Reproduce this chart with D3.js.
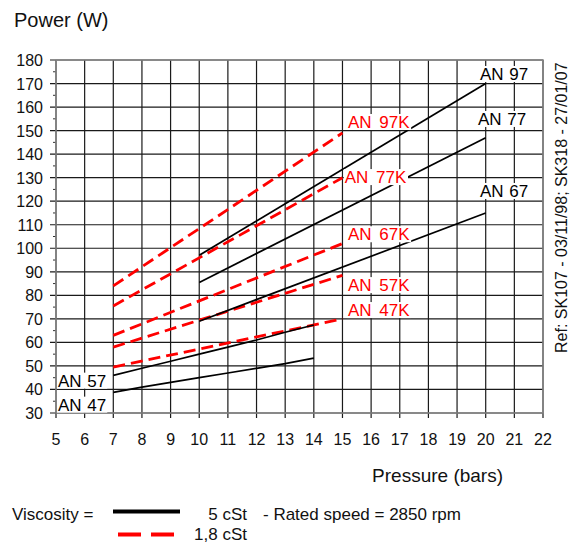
<!DOCTYPE html>
<html>
<head>
<meta charset="utf-8">
<script src="https://cdn.jsdelivr.net/npm/d3@7"></script>
<style>
  body { margin: 0; background: #fff; }
  svg { display: block; font-family: "Liberation Sans", Arial, sans-serif; }
</style>
</head>
<body>
<svg id="chart" width="578" height="544"></svg>
<script>
// pressure (bars) / power (W)
const xTicks = d3.range(5, 23, 1);
const yTicks = d3.range(30, 181, 10);
const yMinor = d3.range(35, 180, 10);

// 5 cSt (solid black)
const an47X = [7, 8, 9, 10, 11, 12, 13, 14];
const an47Y = [38.8, 41, 43, 45, 47, 49, 51, 53.3];
const an57X = [7, 8, 9, 10, 11, 12, 13, 14];
const an57Y = [46, 49, 52, 55, 58, 61, 64.3, 67.4];
const an67X = [10, 20];
const an67Y = [69, 115];
const an77X = [10, 20];
const an77Y = [85.5, 147];
const an97X = [10, 20];
const an97Y = [97, 170];

// 1,8 cSt (dashed red)
const an47kX = [7, 15];
const an47kY = [49.5, 70];
const an57kX = [7, 15];
const an57kY = [58, 88.5];
const an67kX = [7, 15];
const an67kY = [63, 102];
const an77kX = [7, 15];
const an77kY = [75.5, 130];
const an97kX = [7, 15];
const an97kY = [84, 149];

const svg = d3.select("#chart");
const x = d3.scaleLinear().domain([5, 22]).range([56, 543]);
const y = d3.scaleLinear().domain([30, 180]).range([413, 60]);

// grid
const grid = svg.append("g");
grid.selectAll(".vg").data(xTicks).enter().append("line")
    .attr("x1", d => x(d)).attr("x2", d => x(d))
    .attr("y1", y(180)).attr("y2", y(30) + 5)
    .attr("stroke", "#1a1a1a").attr("stroke-width", 1.2);
grid.selectAll(".hg").data(yTicks).enter().append("line")
    .attr("x1", x(5) - 6).attr("x2", x(22))
    .attr("y1", d => y(d)).attr("y2", d => y(d))
    .attr("stroke", "#1a1a1a").attr("stroke-width", 1.2);
grid.selectAll(".mt").data(yMinor).enter().append("line")
    .attr("x1", x(5) - 3).attr("x2", x(5))
    .attr("y1", d => y(d)).attr("y2", d => y(d))
    .attr("stroke", "#333").attr("stroke-width", 1);
grid.append("rect")
    .attr("x", x(5)).attr("y", y(180))
    .attr("width", x(22) - x(5)).attr("height", y(30) - y(180))
    .attr("fill", "none").attr("stroke", "#888").attr("stroke-width", 1.5);

// tick labels
svg.append("g").selectAll("text").data(yTicks).enter().append("text")
    .attr("x", 43).attr("y", d => y(d) + 6)
    .attr("text-anchor", "end").attr("font-size", 16).attr("fill", "#111")
    .text(d => d);
svg.append("g").selectAll("text").data(xTicks).enter().append("text")
    .attr("x", d => x(d)).attr("y", 445)
    .attr("text-anchor", "middle").attr("font-size", 16).attr("fill", "#111")
    .text(d => d);

// series
const line = d3.line().x(d => x(d[0])).y(d => y(d[1]));
const black = [[an47X, an47Y], [an57X, an57Y], [an67X, an67Y], [an77X, an77Y], [an97X, an97Y]];
const red = [[an47kX, an47kY], [an57kX, an57kY], [an67kX, an67kY], [an77kX, an77kY], [an97kX, an97kY]];
const lines = svg.append("g");
red.forEach(s => {
    lines.append("path").datum(d3.zip(s[0], s[1])).attr("d", line)
        .attr("fill", "none").attr("stroke", "#ff0000").attr("stroke-width", 2.8)
        .attr("stroke-dasharray", "12,6");
});
black.forEach(s => {
    lines.append("path").datum(d3.zip(s[0], s[1])).attr("d", line)
        .attr("fill", "none").attr("stroke", "#000").attr("stroke-width", 1.7);
});

// labels (anchored in data units)
const labels = [
    { t: "AN 97", px: 19.8, py: 171.5, c: "#000" },
    { t: "AN 77", px: 19.73, py: 152.4, c: "#000" },
    { t: "AN 67", px: 19.8, py: 121.8, c: "#000" },
    { t: "AN 97K", px: 15.19, py: 151.1, c: "#ff0000" },
    { t: "AN 77K", px: 15.08, py: 127.7, c: "#ff0000" },
    { t: "AN 67K", px: 15.19, py: 103.4, c: "#ff0000" },
    { t: "AN 57K", px: 15.19, py: 81.8, c: "#ff0000" },
    { t: "AN 47K", px: 15.19, py: 71.2, c: "#ff0000" },
    { t: "AN 57", px: 5.07, py: 41.2, c: "#000" },
    { t: "AN 47", px: 5.07, py: 31, c: "#000" }
];
const lg = svg.append("g");
labels.forEach(l => {
    const g = lg.append("g");
    const r = g.append("rect").attr("fill", "#fff");
    const t = g.append("text")
        .attr("x", x(l.px)).attr("y", y(l.py))
        .attr("font-size", 17).attr("fill", l.c)
        .attr("word-spacing", l.c === "#000" ? 1 : 3)
        .text(l.t);
    const b = t.node().getBBox();
    r.attr("x", b.x - 1).attr("width", b.width + 2)
        .attr("y", y(l.py) - 14).attr("height", 16);
});

// titles
svg.append("text").attr("x", 14).attr("y", 27).attr("font-size", 20)
    .attr("fill", "#111").text("Power (W)");
svg.append("text").attr("x", 503).attr("y", 482).attr("font-size", 19)
    .attr("text-anchor", "end").attr("fill", "#111").text("Pressure (bars)");
svg.append("text")
    .attr("transform", "translate(567,353) rotate(-90)")
    .attr("font-size", 16).attr("fill", "#111")
    .text("Ref: SK107 - 03/11/98; SK318 - 27/01/07");

// legend
svg.append("text").attr("x", 12).attr("y", 520).attr("font-size", 17)
    .attr("fill", "#111").text("Viscosity =");
svg.append("line").attr("x1", 113).attr("x2", 180).attr("y1", 511.5).attr("y2", 511.5)
    .attr("stroke", "#000").attr("stroke-width", 4);
svg.append("text").attr("x", 247).attr("y", 520).attr("font-size", 17)
    .attr("text-anchor", "end").attr("fill", "#111").text("5 cSt");
svg.append("text").attr("x", 263).attr("y", 520).attr("font-size", 17)
    .attr("fill", "#111").text("- Rated speed = 2850 rpm");
svg.append("line").attr("x1", 118).attr("x2", 175).attr("y1", 534.5).attr("y2", 534.5)
    .attr("stroke", "#ff0000").attr("stroke-width", 4).attr("stroke-dasharray", "23,10");
svg.append("text").attr("x", 247).attr("y", 540).attr("font-size", 17)
    .attr("text-anchor", "end").attr("fill", "#111").text("1,8 cSt");
</script>
</body>
</html>
